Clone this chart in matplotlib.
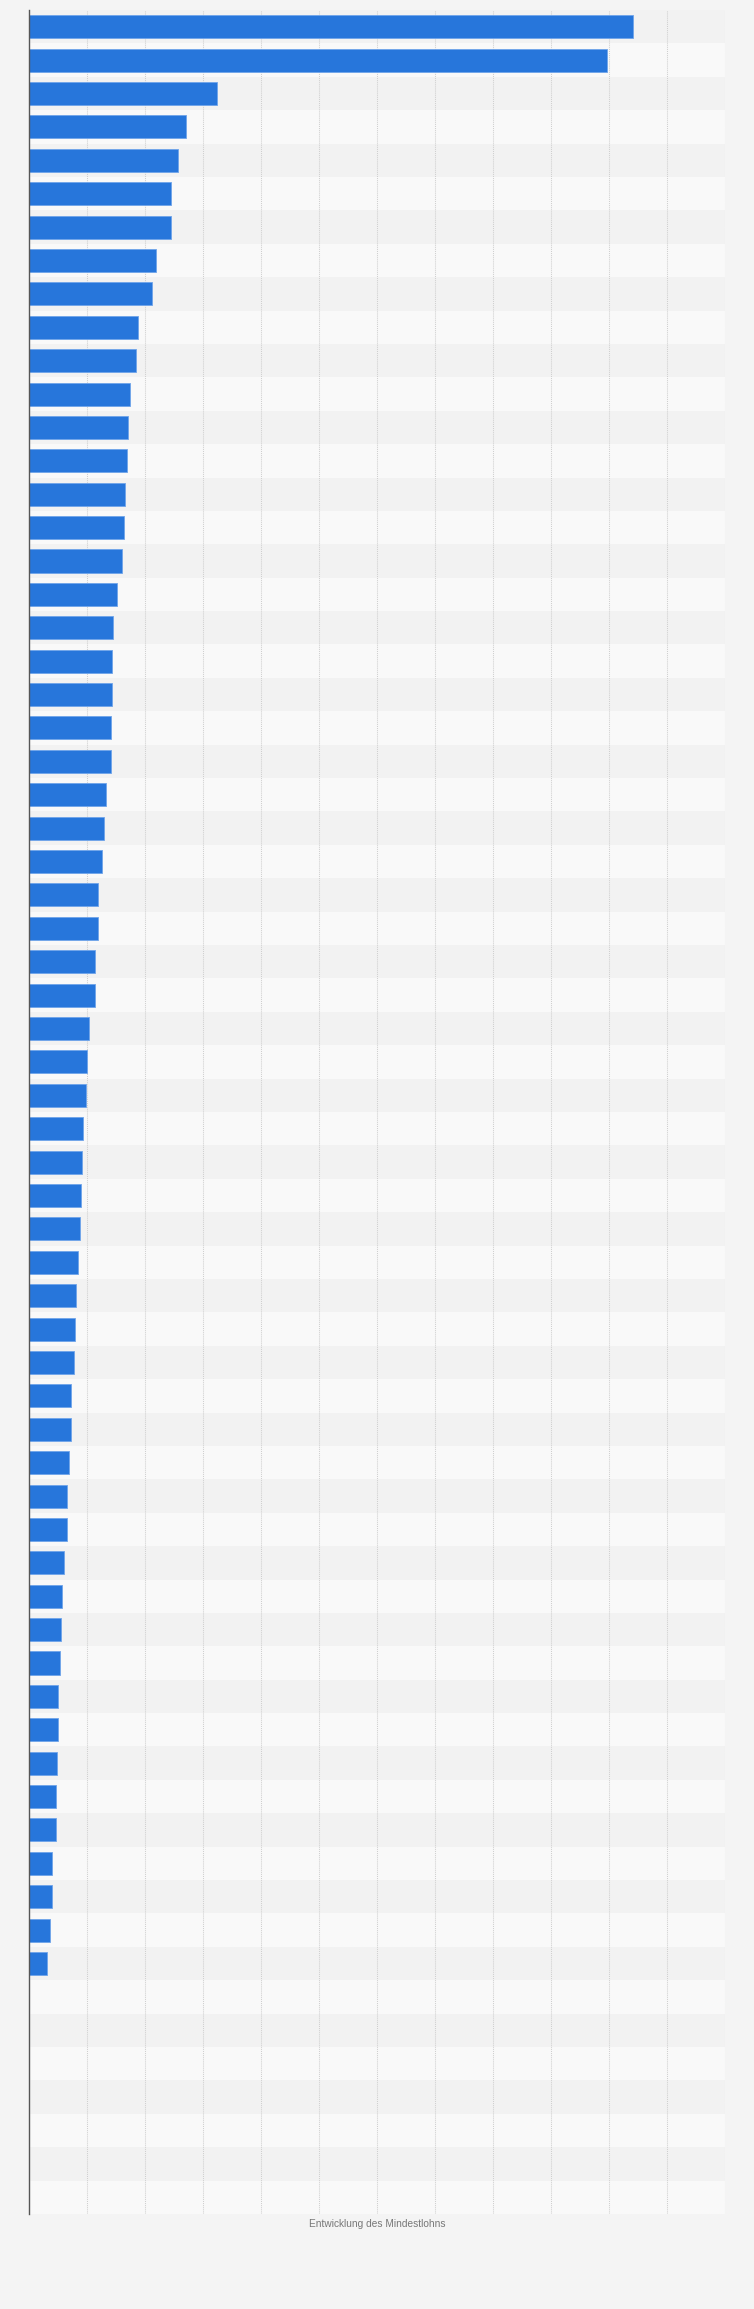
import numpy as np
import matplotlib
matplotlib.use('Agg')
import matplotlib.pyplot as plt

# Bar values (in grid units, one grid step = 1)
values = [10.42, 9.97, 3.24, 2.71, 2.57, 2.45, 2.45, 2.18, 2.115, 1.874,
          1.839, 1.736, 1.701, 1.684, 1.649, 1.632, 1.598, 1.511, 1.443, 1.425,
          1.425, 1.402, 1.402, 1.322, 1.287, 1.253, 1.184, 1.184, 1.132, 1.132,
          1.029, 0.994, 0.971, 0.920, 0.908, 0.891, 0.874, 0.839, 0.805, 0.787,
          0.764, 0.713, 0.713, 0.684, 0.649, 0.649, 0.598, 0.563, 0.546, 0.529,
          0.494, 0.494, 0.477, 0.460, 0.460, 0.391, 0.391, 0.356, 0.305]
# empty rows at the bottom of the chart
empty_rows = 7
x_label = 'Entwicklung des Mindestlohns'

n_rows = len(values) + empty_rows
y = np.arange(n_rows)
vals = np.array(values + [np.nan] * empty_rows)

fig = plt.figure(figsize=(7.54, 23.09), dpi=100, facecolor='#f4f4f4')
ax = fig.add_axes([29.3 / 754, 95 / 2309, (725 - 29.3) / 754, (2214 - 10) / 2309])
ax.set_facecolor('#f4f4f4')

# Alternating row bands
for i in range(n_rows):
    ax.axhspan(i - 0.5, i + 0.5, color='#f2f2f2' if i % 2 == 0 else '#f9f9f9',
               lw=0, zorder=0)

ax.barh(y, vals, height=0.69, color='#2776db', edgecolor='#6fa4ea',
        linewidth=0.6, zorder=3)

ax.set_xlim(0, 12)
ax.set_ylim(n_rows - 0.5, -0.5)
ax.set_xticks(np.arange(1, 13))
ax.grid(axis='x', color='#cfcfcf', linestyle=(0, (1, 1)), linewidth=0.75, zorder=1)
ax.tick_params(left=False, bottom=False, labelleft=False, labelbottom=False)
for side in ['top', 'right', 'bottom']:
    ax.spines[side].set_visible(False)
ax.spines['left'].set_color('#555555')
ax.spines['left'].set_linewidth(1.0)
ax.spines['left'].set_zorder(4)

fig.text(377 / 754, 1 - 2224 / 2309, x_label, ha='center', va='center',
         fontsize=7.3, color='#777777', family=['Liberation Sans', 'DejaVu Sans'])

fig.savefig('out.png', dpi=100, facecolor=fig.get_facecolor())
